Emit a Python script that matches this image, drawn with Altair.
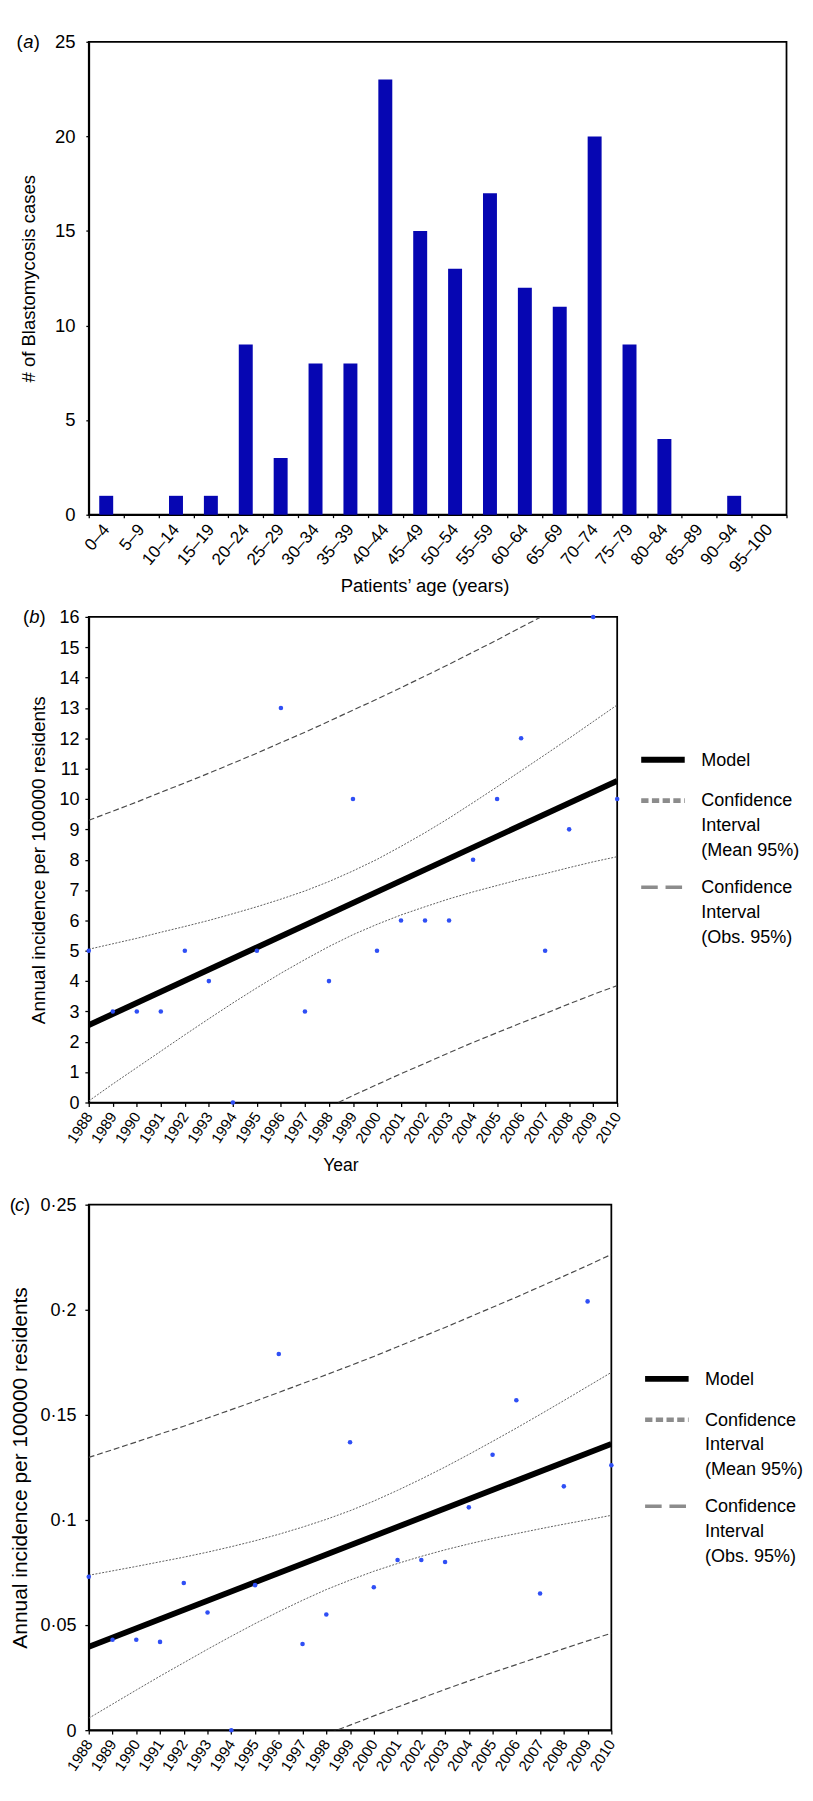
import altair as alt
import pandas as pd

FONT = "Liberation Sans, Arial, Helvetica, sans-serif"

# ---------------- Panel (a) data ----------------
age_groups = ["0–4", "5–9", "10–14", "15–19", "20–24", "25–29", "30–34", "35–39",
              "40–44", "45–49", "50–54", "55–59", "60–64", "65–69", "70–74", "75–79",
              "80–84", "85–89", "90–94", "95–100"]
case_counts = [1, 0, 1, 1, 9, 3, 8, 8, 23, 15, 13, 17, 12, 11, 20, 9, 4, 0, 1, 0]

# ---------------- Shared year axis ----------------
years = [1988, 1989, 1990, 1991, 1992, 1993, 1994, 1995, 1996, 1997, 1998, 1999,
         2000, 2001, 2002, 2003, 2004, 2005, 2006, 2007, 2008, 2009, 2010]
model_years = [1988, 2010]

# ---------------- Panel (b) data ----------------
b_incidence = [5, 3, 3, 3, 5, 4, 0, 5, 13, 3, 4, 10, 5, 6, 6, 6, 8, 10, 12, 5, 9, 16, 10]
b_model = [2.55, 10.6]
b_mean_upper = [5.05, 5.23, 5.41, 5.61, 5.80, 6.00, 6.22, 6.45, 6.70, 6.97, 7.28, 7.63,
                8.01, 8.44, 8.89, 9.37, 9.88, 10.40, 10.93, 11.46, 12.00, 12.55, 13.10]
b_mean_lower = [0.05, 0.61, 1.15, 1.69, 2.23, 2.76, 3.28, 3.78, 4.26, 4.71, 5.14, 5.53,
                5.87, 6.18, 6.45, 6.71, 6.94, 7.15, 7.36, 7.54, 7.74, 7.93, 8.10]
b_obs_upper = [9.30, 9.60, 9.90, 10.22, 10.53, 10.85, 11.18, 11.51, 11.86, 12.20, 12.56, 12.93,
               13.29, 13.67, 14.05, 14.44, 14.84, 15.24, 15.66, 16.07, 16.49, 16.92, 17.35]
b_obs_lower = [-4.20, -3.76, -3.34, -2.92, -2.51, -2.09, -1.68, -1.29, -0.90, -0.52, -0.14, 0.23,
               0.59, 0.95, 1.29, 1.64, 1.98, 2.30, 2.62, 2.93, 3.25, 3.56, 3.85]
b_yticks = [0, 1, 2, 3, 4, 5, 6, 7, 8, 9, 10, 11, 12, 13, 14, 15, 16]

# ---------------- Panel (c) data ----------------
c_incidence = [0.073, 0.043, 0.043, 0.042, 0.070, 0.056, 0.000, 0.069, 0.179, 0.041, 0.055, 0.137,
               0.068, 0.081, 0.081, 0.080, 0.106, 0.131, 0.157, 0.065, 0.116, 0.204, 0.126]
c_model = [0.0397, 0.1362]
c_mean_upper = [0.0737, 0.0758, 0.0779, 0.0801, 0.0823, 0.0847, 0.0873, 0.0901, 0.0932, 0.0966,
                0.1003, 0.1044, 0.1090, 0.1141, 0.1195, 0.1252, 0.1312, 0.1374, 0.1437, 0.1502,
                0.1568, 0.1635, 0.1702]
c_mean_lower = [0.0057, 0.0124, 0.0191, 0.0257, 0.0321, 0.0385, 0.0447, 0.0507, 0.0564, 0.0618,
                0.0669, 0.0714, 0.0756, 0.0793, 0.0827, 0.0858, 0.0886, 0.0912, 0.0935, 0.0958,
                0.0980, 0.1001, 0.1022]
c_obs_upper = [0.1298, 0.1334, 0.1371, 0.1409, 0.1446, 0.1485, 0.1525, 0.1565, 0.1607, 0.1649,
               0.1691, 0.1734, 0.1778, 0.1824, 0.1870, 0.1916, 0.1964, 0.2012, 0.2060, 0.2110,
               0.2160, 0.2211, 0.2263]
c_obs_lower = [-0.0504, -0.0452, -0.0401, -0.0351, -0.0302, -0.0253, -0.0205, -0.0157, -0.0111,
               -0.0065, -0.0019, 0.0024, 0.0068, 0.0110, 0.0152, 0.0194, 0.0234, 0.0274, 0.0312,
               0.0350, 0.0388, 0.0425, 0.0461]
c_yticks = [0, 0.05, 0.1, 0.15, 0.2, 0.25]

legend_labels = ["Model", "Confidence|Interval|(Mean 95%)", "Confidence|Interval|(Obs. 95%)"]


def panel_letter(letter, xs, size):
    base = alt.Chart(pd.DataFrame({"k": [0]}))
    common = dict(y=0, fontSize=size, font=FONT, align="center", baseline="middle", color="black")
    return (base.mark_text(text="(", x=xs[0], **common)
            + base.mark_text(text=letter, x=xs[1], fontStyle="italic", **common)
            + base.mark_text(text=")", x=xs[2], **common))


# ---------------- Panel (a) ----------------
W_A, H_A = 717, 486
df_a = pd.DataFrame({"age": age_groups, "cases": case_counts})
bars = alt.Chart(df_a).mark_bar(color="#0606b2", width=alt.RelativeBandSize(0.4)).encode(
    x=alt.X("age:N", sort=age_groups,
            scale=alt.Scale(paddingInner=0, paddingOuter=0),
            axis=alt.Axis(title="Patients\u2019 age (years)", labelAngle=-50, labelFontSize=17.5,
                          labelOverlap=False, tickBand="extent", tickSize=3, labelPadding=9,
                          titleFontSize=19, titleX=345, titleY=73, titleBaseline="middle",
                          titleAlign="center")),
    y=alt.Y("cases:Q", scale=alt.Scale(domain=[0, 25], nice=False),
            axis=alt.Axis(title="# of Blastomycosis cases", values=[0, 5, 10, 15, 20, 25],
                          labelFontSize=19, tickSize=3, labelPadding=11,
                          titleFontSize=19, titleX=-62, titleY=H_A / 2,
                          titleBaseline="middle", titleAlign="center")),
)
panel_a = alt.layer(bars, panel_letter("a", [-71, -62, -53.5], 19)).properties(width=W_A, height=H_A)


# ---------------- Regression panels ----------------
def regression_panel(incidence, model, mean_up, mean_lo, obs_up, obs_lo, ydomain, yticks,
                     label_expr, ylabel_pad, width, height, ytitle, ytitle_x, ytitle_size, xtitle,
                     legend_x, legend_y, letter, letter_xs):
    pts = pd.DataFrame({"year": years, "value": incidence})
    mdl = pd.DataFrame({"year": model_years, "value": model})
    mean_df = pd.concat([
        pd.DataFrame({"year": years, "value": mean_up, "band": "upper"}),
        pd.DataFrame({"year": years, "value": mean_lo, "band": "lower"}),
    ])
    obs_df = pd.concat([
        pd.DataFrame({"year": years, "value": obs_up, "band": "upper"}),
        pd.DataFrame({"year": years, "value": obs_lo, "band": "lower"}),
    ])
    x_axis = alt.Axis(values=years, format="d", labelAngle=-57, labelFontSize=15.5,
                      labelOverlap=False, tickSize=4, labelPadding=7,
                      title=xtitle if xtitle else None, titleFontSize=18,
                      titleX=width / 2 - 13, titleY=65, titleBaseline="middle")
    y_kwargs = dict(values=yticks, labelFontSize=18.5, labelOverlap=False, tickSize=4,
                    labelPadding=ylabel_pad, title=ytitle,
                    titleFontSize=ytitle_size, titleX=ytitle_x, titleY=height / 2,
                    titleBaseline="middle", titleAlign="center")
    if label_expr:
        y_kwargs["labelExpr"] = label_expr
    y_axis = alt.Axis(**y_kwargs)
    X = alt.X("year:Q", scale=alt.Scale(domain=[1988, 2010], nice=False, zero=False), axis=x_axis)
    Y = alt.Y("value:Q", scale=alt.Scale(domain=ydomain, nice=False, zero=False), axis=y_axis)

    mean_lines = alt.Chart(mean_df).mark_line(
        stroke="#5a5a5a", strokeWidth=1, strokeDash=[2, 1.5], clip=True
    ).encode(x=X, y=Y, detail="band:N")
    obs_lines = alt.Chart(obs_df).mark_line(
        stroke="#4a4a4a", strokeWidth=1.2, strokeDash=[6, 3], clip=True
    ).encode(x=X, y=Y, detail="band:N")
    model_line = alt.Chart(mdl).mark_line(stroke="black", strokeWidth=6, clip=True).encode(x=X, y=Y)
    points = alt.Chart(pts).mark_circle(size=22, color="#2f4ff5", opacity=1).encode(x=X, y=Y)

    leg = alt.Legend(title=None, orient="none", legendX=legend_x, legendY=legend_y,
                     labelExpr="split(datum.label, '|')", labelFont=FONT, labelFontSize=18.5,
                     labelColor="black", labelLimit=0, labelOffset=30, padding=0,
                     symbolType="M-4,0H4", symbolSize=125, rowPadding=19)
    legend_df = pd.DataFrame({"series": legend_labels})
    legend_layer = alt.Chart(legend_df).mark_line().encode(
        x=X, y=Y,
        stroke=alt.Stroke("series:N", scale=alt.Scale(domain=legend_labels,
                                                      range=["black", "#8c8c8c", "#8c8c8c"]),
                          legend=leg),
        strokeDash=alt.StrokeDash("series:N", scale=alt.Scale(domain=legend_labels,
                                                              range=[[1, 0], [7.5, 3.5], [17, 8]]),
                                  legend=leg),
        strokeWidth=alt.StrokeWidth("series:N", scale=alt.Scale(domain=legend_labels,
                                                                range=[6, 3.5, 4]),
                                    legend=leg),
    ).transform_filter("false")

    return alt.layer(mean_lines, obs_lines, model_line, points, legend_layer,
                     panel_letter(letter, letter_xs, 19)).properties(width=width, height=height)


panel_b = regression_panel(b_incidence, b_model, b_mean_upper, b_mean_lower, b_obs_upper,
                           b_obs_lower, [0, 16], b_yticks, None, 6, 543, 499,
                           "Annual incidence per 100000 residents", -51, 19.5, "Year",
                           580.8, 137.5, "b", [-64.5, -56, -47.5])

panel_c = regression_panel(c_incidence, c_model, c_mean_upper, c_mean_lower, c_obs_upper,
                           c_obs_lower, [0, 0.25], c_yticks,
                           "replace(format(datum.value, '~g'), '.', '\u00b7')", 9, 537, 540,
                           "Annual incidence per 100000 residents", -70, 21.5, None,
                           584.8, 169.7, "c", [-78, -71, -63.5])

chart = alt.vconcat(panel_a, panel_b, panel_c, spacing=105, bounds="flush").resolve_scale(
    stroke="independent", strokeDash="independent", strokeWidth="independent"
).resolve_legend(
    stroke="independent", strokeDash="independent", strokeWidth="independent"
).configure(
    style={"guide-label": {"lineHeight": 25.5}}
).configure_view(
    stroke="black", strokeWidth=1.8
).configure_axis(
    domainColor="black", domainWidth=1.8, tickColor="black", tickWidth=1.3,
    labelColor="black", titleColor="black", labelFont=FONT, titleFont=FONT,
    titleFontWeight="normal", grid=False
).properties(padding=0, background="white")

chart.save("out.html", embed_options={"renderer": "svg", "actions": False})
